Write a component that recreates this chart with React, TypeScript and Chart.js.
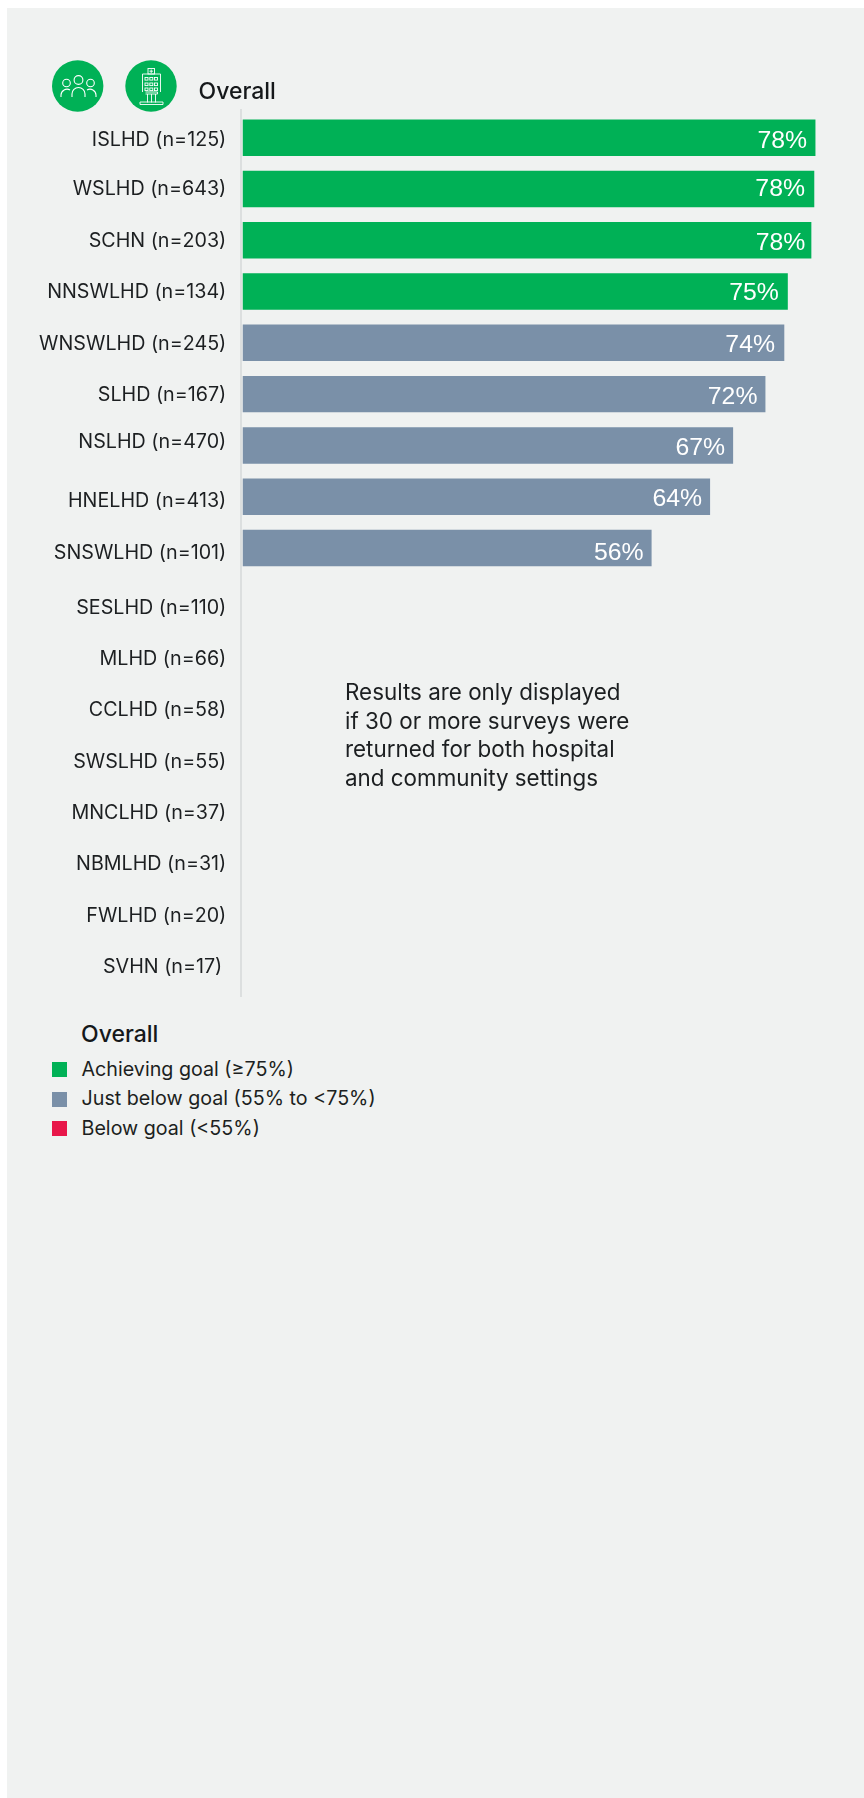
import React, { useEffect, useRef } from "react";
import { Chart, registerables } from "chart.js";

Chart.register(...registerables);

const categories = ["ISLHD (n=125)","WSLHD (n=643)","SCHN (n=203)","NNSWLHD (n=134)","WNSWLHD (n=245)","SLHD (n=167)","NSLHD (n=470)","HNELHD (n=413)","SNSWLHD (n=101)","SESLHD (n=110)","MLHD (n=66)","CCLHD (n=58)","SWSLHD (n=55)","MNCLHD (n=37)","NBMLHD (n=31)","FWLHD (n=20)","SVHN (n=17)"];
const values = [78.36,78.2,77.8,74.58,74.1,71.52,67.1,63.95,55.95,null,null,null,null,null,null,null,null];
const labelNudgeY = [2,0,1,1,1,1,-3,4,5,9,8,8,8.5,8.5,8,9.5,8.5];
const labelNudgeX = [0,0,0,0,0,0,0,0,0,0,0,0,0,0,0,0,-4];
const valueNudgeX = [8.3,9.3,6,9,9.3,8,8,8,8];
const valueNudgeY = [3.5,0,2.5,1.5,2,3,3,2,5];
const GREEN = "#00B156", SLATE = "#7A90A8", RED = "#E8174A", INK = "#1c1f21";
const legendItems = [["Achieving goal (≥75%)", GREEN],["Just below goal (55% to <75%)", SLATE],["Below goal (<55%)", RED]];
const noteLines = ["Results are only displayed","if 30 or more surveys were","returned for both hospital","and community settings"];
const FONT = "Inter";

const colorFor = (v: number) => (v >= 74.5 ? GREEN : v >= 55 ? SLATE : RED);

const overlay = {
  id: "overlay",
  afterDatasetsDraw(chart: any) {
    const { ctx, chartArea, scales } = chart;
    const y = scales.y, x = scales.x;
    ctx.save();
    ctx.strokeStyle = "#d6d9d9";
    ctx.lineWidth = 1.5;
    ctx.beginPath();
    ctx.moveTo(241, chartArea.top - 3);
    ctx.lineTo(241, chartArea.bottom + 13);
    ctx.stroke();
    ctx.textBaseline = "middle";
    ctx.textAlign = "right";
    ctx.fillStyle = INK;
    ctx.font = `400 19.7px ${FONT}`;
    categories.forEach((c, i) => {
      ctx.fillText(c, 226.3 + labelNudgeX[i], y.getPixelForValue(i) + labelNudgeY[i]);
    });
    ctx.fillStyle = "#fff";
    ctx.font = "400 24.8px 'Liberation Sans'";
    values.forEach((v, i) => {
      if (v == null) return;
      ctx.fillText(Math.round(v) + "%", x.getPixelForValue(v) - valueNudgeX[i], y.getPixelForValue(i) + valueNudgeY[i]);
    });
    ctx.restore();
  },
};

export default function App() {
  const ref = useRef<HTMLCanvasElement>(null);
  useEffect(() => {
    const chart = new Chart(ref.current!, {
      type: "bar",
      data: {
        labels: categories,
        datasets: [{
          data: values as any,
          backgroundColor: values.map((v) => (v == null ? SLATE : colorFor(v))),
          barPercentage: 0.711,
          categoryPercentage: 1,
          borderWidth: 0,
        }],
      },
      options: {
        indexAxis: "y",
        animation: false,
        responsive: false,
        layout: { padding: { top: 112, bottom: 26, left: 0, right: 0 } },
        plugins: { legend: { display: false }, tooltip: { enabled: false } },
        scales: {
          x: { display: false, min: 0, max: 85, grid: { display: false } },
          y: {
            grid: { display: false },
            border: { display: false },
            ticks: { display: false },
            afterFit: (s: any) => { s.width = 242.5; },
          },
        },
      },
      plugins: [overlay],
    } as any);
    return () => chart.destroy();
  }, []);

  const text = (style: React.CSSProperties, content: string) => (
    <div key={content} style={{ position: "absolute", whiteSpace: "nowrap", color: INK, fontFamily: FONT, lineHeight: 1, ...style }}>{content}</div>
  );

  return (
    <div style={{ position: "fixed", left: 0, top: 0, width: 864, height: 1798, background: "#fff", overflow: "hidden" }}>
      <div style={{ position: "absolute", left: 7, top: 8, right: 0, bottom: 0, background: "#F0F2F1" }} />
      <canvas ref={ref} width={864} height={1010} style={{ position: "absolute", left: 0, top: 0, width: 864, height: 1010 }} />
      <svg width={864} height={120} style={{ position: "absolute", left: 0, top: 0 }}>
        <circle cx={77.7} cy={86} r={25.7} fill={GREEN} />
        <g fill="none" stroke="#fff" strokeWidth={1.1}>
          <circle cx={66.5} cy={83} r={3.8} /><circle cx={78.5} cy={80} r={4.4} /><circle cx={90.5} cy={83} r={3.8} />
          <path d="M61 97 v-2 a6 6 0 0 1 9 -5" /><path d="M72 97 v-3 a6.5 6.5 0 0 1 13 0 v3" /><path d="M87 90 a6 6 0 0 1 9 5 v2" />
        </g>
        <circle cx={151} cy={86} r={25.7} fill={GREEN} />
        <g fill="none" stroke="#fff" strokeWidth={0.9}>
          <rect x={148} y={68.5} width={6.5} height={5.5} /><path d="M151.2 69.5 v3.5 M149.5 71.2 h3.5" />
          <path d="M142.5 92 v-18 h18 v18" />
          {[77.5,83,88].map((yy) => [145,149.8,154.5].map((xx) => <rect key={xx + "-" + yy} x={xx} y={yy} width={3} height={2.6} />))}
          <path d="M145.5 94 h12 M147.5 94 v8.5 M151.5 94 v8.5 M155.5 94 v8.5 M140 104.5 h23 v-2.5 h-23 z M145.5 92 h12 v2" />
        </g>
      </svg>
      {text({ left: 198.5, top: 80, fontSize: 23, fontWeight: 500, color: "#15181a" }, "Overall")}
      {noteLines.map((l, i) => text({ left: 345, top: 681 + i * 28.5, fontSize: 22.4 }, l))}
      {text({ left: 81, top: 1023, fontSize: 23, fontWeight: 500, color: "#15181a" }, "Overall ")}
      {legendItems.map(([l, c], i) => (
        <React.Fragment key={l}>
          <div style={{ position: "absolute", left: 52, top: 1062 + i * 29.5, width: 15, height: 15, background: c }} />
          {text({ left: 81.5, top: 1059.5 + i * 29.7, fontSize: 19.7 }, l)}
        </React.Fragment>
      ))}
    </div>
  );
}
